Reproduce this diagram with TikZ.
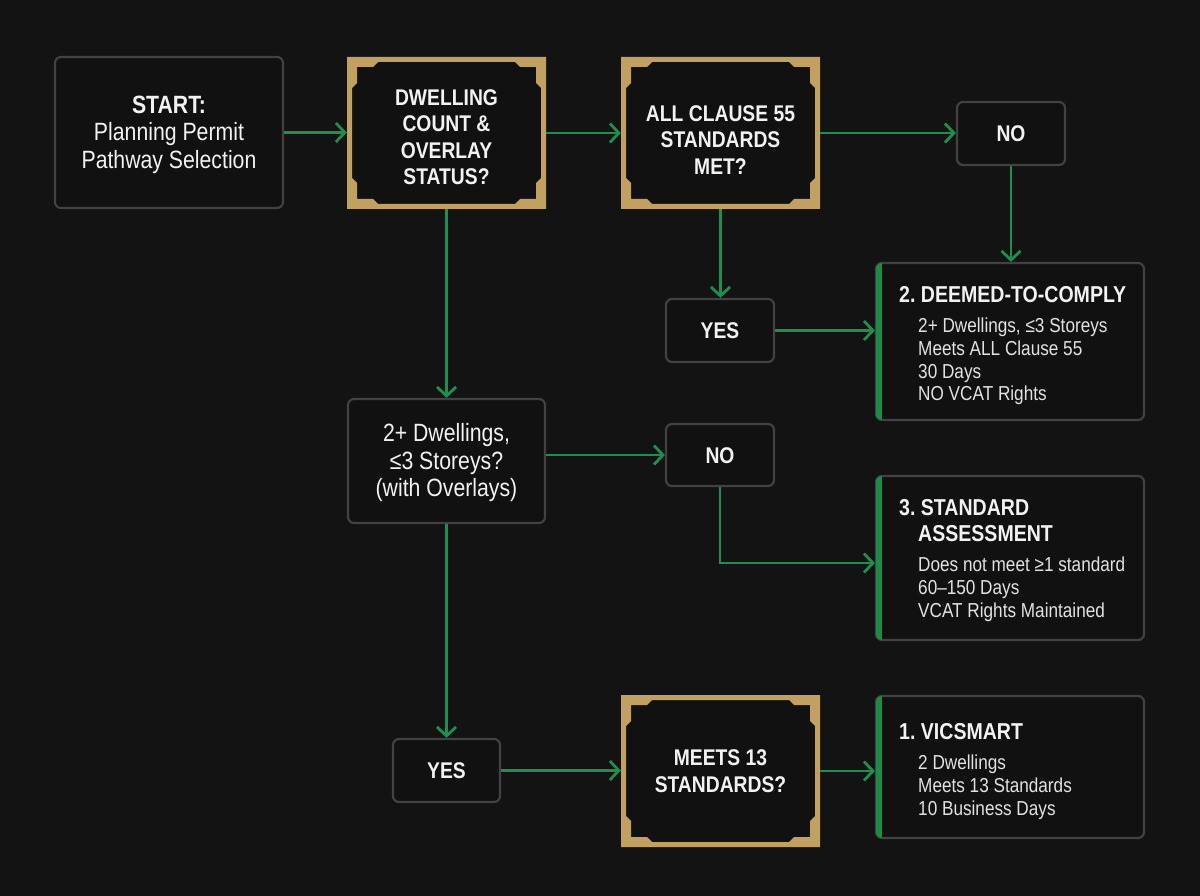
\documentclass[tikz,border=0pt]{standalone}
\usepackage{fontspec}
\setmainfont[FakeStretch=0.85]{Liberation Sans}
\usetikzlibrary{arrows.meta}
\definecolor{bgc}{HTML}{131313}
\definecolor{boxfill}{HTML}{111111}
\definecolor{boxline}{HTML}{424242}
\definecolor{gold}{HTML}{C2A062}
\definecolor{accent}{HTML}{1E8A48}
\definecolor{arrowc}{HTML}{1F8E4E}
\definecolor{txt}{HTML}{F2F2F2}
\definecolor{subtxt}{HTML}{E2E2E2}
\newcommand\goldframe[4]{%
  \fill[gold, even odd rule] (#1,#2) rectangle (#3,#4)
    ({#1+10},{#2+26}) -- ({#1+10},{#2+10}) -- ({#1+26},{#2+10}) -- ({#1+31},{#2+5})
    -- ({#3-31},{#2+5}) -- ({#3-26},{#2+10}) -- ({#3-10},{#2+10}) -- ({#3-10},{#2+26})
    -- ({#3-5},{#2+31}) -- ({#3-5},{#4-31}) -- ({#3-10},{#4-26}) -- ({#3-10},{#4-10})
    -- ({#3-26},{#4-10}) -- ({#3-31},{#4-5}) -- ({#1+31},{#4-5}) -- ({#1+26},{#4-10})
    -- ({#1+10},{#4-10}) -- ({#1+10},{#4-26}) -- ({#1+5},{#4-31}) -- ({#1+5},{#2+31}) -- cycle;}
\newcommand\accentbar[4]{%
  \begin{scope}
    \clip[rounded corners=6pt] (#1,#2) rectangle (#3,#4);
    \fill[accent] ({#1-2},{#2-2}) rectangle ({#1+6},{#4+2});
  \end{scope}}
\tikzset{
  plainbox/.style={draw=boxline, line width=2.2pt, rounded corners=6pt, fill=boxfill,
    inner sep=0pt},
  goldbox/.style={fill=boxfill, inner sep=0pt},
  boxtext/.style={text=txt, align=center, inner sep=0pt,
    font=\fontsize{25}{27.5}\selectfont},
  boldtext/.style={text=txt, align=center, inner sep=0pt,
    font=\bfseries\fontsize{22.7}{26.5}\selectfont},
  titletxt/.style={anchor=west, inner sep=0pt, text=txt, align=left,
    font=\bfseries\fontsize{23}{26}\selectfont},
  detailtxt/.style={anchor=north west, inner sep=0pt, text=subtxt, align=left,
    font=\fontsize{20.2}{22.6}\selectfont},
  flow/.style={draw=arrowc, line width=2.8pt,
    -{Straight Barb[length=9pt,width=19pt,line width=2.8pt]}}
}
\begin{document}
\frenchspacing
\begin{tikzpicture}[x=1pt,y=-1pt]
\fill[bgc] (0,0) rectangle (1200,896);
\useasboundingbox (0,0) rectangle (1200,896);

% plain boxes
\node[plainbox, minimum width=228pt, minimum height=151pt] (start) at (169,132.5) {};
\node[boxtext] (startt) at (169,134.5)
  {{\bfseries START:}\\Planning Permit\\Pathway Selection};
\node[plainbox, minimum width=197pt, minimum height=124pt] (two) at (446.5,461) {};
\node[boxtext] (twot) at (446.5,463)
  {2+ Dwellings,\\≤3 Storeys?\\(with Overlays)};
\node[plainbox, minimum width=108pt, minimum height=63pt] (notop) at (1011,133.5) {};
\node[boldtext] (notopt) at (1011,134) {NO};
\node[plainbox, minimum width=108pt, minimum height=63pt] (yesmid) at (720,330.5) {};
\node[boldtext] (yesmidt) at (720,331) {YES};
\node[plainbox, minimum width=108pt, minimum height=62pt] (nomid) at (720,455) {};
\node[boldtext] (nomidt) at (720,455.5) {NO};
\node[plainbox, minimum width=107pt, minimum height=63pt] (yesbot) at (446.5,770.5) {};
\node[boldtext] (yesbott) at (446.5,771) {YES};

% gold decision boxes
\node[goldbox, minimum width=199pt, minimum height=152pt] (dwell) at (446.5,133) {};
\goldframe{347}{57}{546}{209}
\node[boldtext] (dwellt) at (446.5,137) {DWELLING\\COUNT \&\\OVERLAY\\STATUS?};
\node[goldbox, minimum width=199pt, minimum height=152pt] (clause) at (720.5,133) {};
\goldframe{621}{57}{820}{209}
\node[boldtext] (clauset) at (720.5,140) {ALL CLAUSE 55\\STANDARDS\\MET?};
\node[goldbox, minimum width=199pt, minimum height=152pt] (meets) at (720.5,771) {};
\goldframe{621}{695}{820}{847}
\node[boldtext] (meetst) at (720.5,771) {MEETS 13\\STANDARDS?};

% result boxes
\node[plainbox, minimum width=268pt, minimum height=157pt] (deemed) at (1010,341.5) {};
\accentbar{876}{263}{1144}{420}
\node[titletxt] (deemedt) at (899,295) {2. DEEMED-TO-COMPLY};
\node[detailtxt] (deemedd) at (918,318)
  {2+ Dwellings, ≤3 Storeys\\Meets ALL Clause 55\\30 Days\\NO VCAT Rights};

\node[plainbox, minimum width=268pt, minimum height=164pt] (standard) at (1010,558) {};
\accentbar{876}{476}{1144}{640}
\node[titletxt, anchor=north west] (standardt) at (899,499)
  {3. STANDARD\\\hspace*{19pt}ASSESSMENT};
\node[detailtxt] (standardd) at (918,557)
  {Does not meet ≥1 standard\\60–150 Days\\VCAT Rights Maintained};

\node[plainbox, minimum width=268pt, minimum height=142pt] (vic) at (1010,767) {};
\accentbar{876}{696}{1144}{838}
\node[titletxt] (vict) at (899,732) {1. VICSMART};
\node[detailtxt] (vicd) at (918,755)
  {2 Dwellings\\Meets 13 Standards\\10 Business Days};

% connectors
\draw[flow] (start.east) -- (start.east -| dwell.west);
\draw[flow] (dwell.east) -- (dwell.east -| clause.west);
\draw[flow] (clause.east) -- (clause.east -| notop.west);
\draw[flow] (notop.south) -- (notop.south |- deemed.north);
\draw[flow] (clause.south) -- (clause.south |- yesmid.north);
\draw[flow] (yesmid.east) -- (yesmid.east -| deemed.west);
\draw[flow] (dwell.south) -- (dwell.south |- two.north);
\draw[flow] (nomid.west -| two.east) -- (nomid.west);
\draw[flow] (nomid.south) |- ([yshift=-5pt]standard.west);
\draw[flow] (two.south) -- (two.south |- yesbot.north);
\draw[flow] (yesbot.east) -- (yesbot.east -| meets.west);
\draw[flow] (meets.east) -- (meets.east -| vic.west);
\end{tikzpicture}
\end{document}
